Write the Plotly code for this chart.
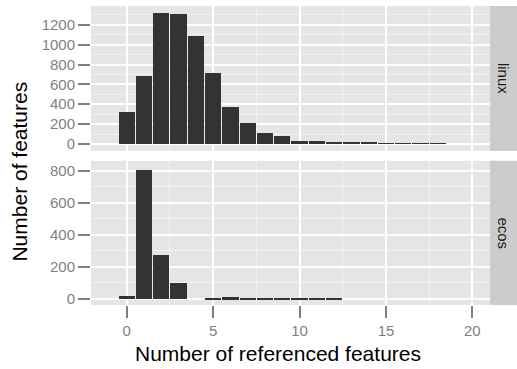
import plotly.graph_objects as go

bins = list(range(0, 19))
linux_counts = [320, 680, 1323, 1310, 1090, 720, 370, 210, 110, 80, 27, 27, 17, 17, 13, 7, 7, 7, 7]
ecos_bins = list(range(0, 13))
ecos_counts = [18, 808, 277, 103, 0, 6, 12, 8, 6, 6, 3, 6, 6]
x_ticks = [0, 5, 10, 15, 20]
panel_names = ["linux", "ecos"]

W, H = 517, 369
px = lambda v: v / W
py = lambda v: 1 - v / H

x0, x1 = px(91), px(490)
top_dom = [py(151.7), py(6)]
bot_dom = [py(306.7), py(161.7)]

fig = go.Figure()
bar_style = dict(marker=dict(color="#333333", line=dict(width=0)), width=0.94, showlegend=False, hoverinfo="x+y")
fig.add_trace(go.Bar(x=bins, y=linux_counts, xaxis="x2", yaxis="y2", **bar_style))
fig.add_trace(go.Bar(x=ecos_bins, y=ecos_counts, xaxis="x", yaxis="y", **bar_style))

tickfont = dict(family="Liberation Sans, Arial, sans-serif", size=15, color="#7f7f7f")
common_x = dict(range=[-2.07, 21.02], domain=[x0, x1], tickvals=x_ticks, showgrid=True, gridcolor="white", gridwidth=1.6,
                minor=dict(dtick=2.5, tick0=2.5, showgrid=True, gridcolor="#f2f2f2", gridwidth=0.8),
                zeroline=False, showline=False, fixedrange=True)
common_y = dict(showgrid=True, gridcolor="white", gridwidth=1.6, zeroline=False, showline=False,
                ticks="outside", ticklen=12, tickwidth=2, tickcolor="#7f7f7f", tickfont=tickfont,
                minor=dict(dtick=100, tick0=100, showgrid=True, gridcolor="#f2f2f2", gridwidth=0.8))

fig.update_layout(
    width=W, height=H, margin=dict(l=0, r=0, t=0, b=0),
    paper_bgcolor="white", plot_bgcolor="#e5e5e5", bargap=0,
    font=dict(family="Liberation Sans, Arial, sans-serif"),
    xaxis=dict(anchor="y", ticks="outside", ticklen=12, tickwidth=2, tickcolor="#7f7f7f", tickfont=tickfont, **common_x),
    xaxis2=dict(anchor="y2", showticklabels=False, ticks="", matches="x", **common_x),
    yaxis=dict(domain=bot_dom, anchor="x", range=[-38, 862], tickvals=[0, 200, 400, 600, 800], **common_y),
    yaxis2=dict(domain=top_dom, anchor="x2", range=[-70, 1390], tickvals=[0, 200, 400, 600, 800, 1000, 1200], **common_y),
)

# facet strips
for name, dom in zip(panel_names, [top_dom, bot_dom]):
    fig.add_shape(type="rect", xref="paper", yref="paper", x0=px(490), x1=px(517), y0=dom[0], y1=dom[1],
                  fillcolor="#cccccc", line=dict(width=0), layer="below")
    fig.add_annotation(xref="paper", yref="paper", x=px(503.5), y=(dom[0] + dom[1]) / 2, text=name, showarrow=False,
                       textangle=90, font=dict(size=15, color="#1a1a1a"), xanchor="center", yanchor="middle")

fig.add_annotation(xref="paper", yref="paper", x=px(20), y=py(172.5), text="Number of features", showarrow=False,
                   textangle=-90, font=dict(size=21, color="black"), xanchor="center", yanchor="middle")
fig.add_annotation(xref="paper", yref="paper", x=px(277.5), y=py(355), text="Number of referenced features",
                   showarrow=False, font=dict(size=21, color="black"), xanchor="center", yanchor="middle")

fig.write_html("out.html", config={"displayModeBar": False},
               post_script="document.body.style.margin='0';document.body.style.overflow='hidden';")
